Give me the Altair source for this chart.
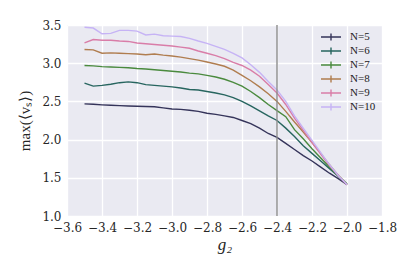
import altair as alt
import pandas as pd

# g2 values (x)
g2 = [-3.50, -3.45, -3.40, -3.35, -3.30, -3.25, -3.20, -3.15, -3.10, -3.05,
      -3.00, -2.95, -2.90, -2.85, -2.80, -2.75, -2.70, -2.65, -2.60, -2.55,
      -2.50, -2.45, -2.40, -2.35, -2.30, -2.25, -2.20, -2.15, -2.10, -2.05, -2.00]

n5 = [2.467, 2.462, 2.455, 2.45, 2.445, 2.44, 2.436, 2.433, 2.43, 2.415,
      2.40, 2.395, 2.385, 2.37, 2.345, 2.33, 2.31, 2.29, 2.25, 2.21,
      2.15, 2.08, 2.03, 1.95, 1.87, 1.79, 1.72, 1.64, 1.56, 1.49, 1.41]
n6 = [2.74, 2.70, 2.71, 2.725, 2.745, 2.755, 2.745, 2.72, 2.71, 2.70,
      2.69, 2.675, 2.655, 2.65, 2.63, 2.61, 2.585, 2.55, 2.50, 2.44,
      2.375, 2.31, 2.25, 2.15, 2.04, 1.92, 1.82, 1.72, 1.62, 1.52, 1.42]
n7 = [2.97, 2.965, 2.955, 2.95, 2.945, 2.94, 2.93, 2.925, 2.915, 2.905,
      2.895, 2.885, 2.87, 2.86, 2.84, 2.82, 2.79, 2.75, 2.70, 2.63,
      2.55, 2.46, 2.38, 2.30, 2.13, 2.01, 1.88, 1.76, 1.64, 1.53, 1.42]
n8 = [3.18, 3.175, 3.13, 3.135, 3.13, 3.125, 3.12, 3.11, 3.12, 3.105,
      3.095, 3.08, 3.06, 3.04, 3.015, 2.99, 2.96, 2.91, 2.84, 2.77,
      2.69, 2.60, 2.50, 2.37, 2.23, 2.10, 1.96, 1.82, 1.67, 1.53, 1.41]
n9 = [3.267, 3.31, 3.30, 3.30, 3.29, 3.285, 3.265, 3.255, 3.245, 3.235,
      3.225, 3.21, 3.195, 3.16, 3.13, 3.10, 3.06, 3.01, 2.97, 2.91,
      2.83, 2.72, 2.61, 2.46, 2.28, 2.12, 1.96, 1.81, 1.66, 1.53, 1.41]
n10 = [3.47, 3.46, 3.385, 3.39, 3.43, 3.43, 3.42, 3.37, 3.38, 3.36,
       3.355, 3.35, 3.325, 3.29, 3.26, 3.22, 3.18, 3.13, 3.07, 2.98,
       2.88, 2.76, 2.65, 2.50, 2.31, 2.15, 1.99, 1.83, 1.67, 1.53, 1.41]

series_names = ["N=5", "N=6", "N=7", "N=8", "N=9", "N=10"]
series_values = [n5, n6, n7, n8, n9, n10]
colors = ["#35345a", "#27655f", "#4a8a3e", "#b07d4f", "#d97da8", "#c6b3f5"]

x_ticks = [-3.6, -3.4, -3.2, -3.0, -2.8, -2.6, -2.4, -2.2, -2.0, -1.8]
y_ticks = [1.0, 1.5, 2.0, 2.5, 3.0, 3.5]
vline_x = [-2.4]

rows = []
for name, vals in zip(series_names, series_values):
    for x, v in zip(g2, vals):
        rows.append({"g2": x, "v": v, "N": name})
df = pd.DataFrame(rows)
df_v = pd.DataFrame({"g2": vline_x})

FONT = "Liberation Serif"
TICKFONT = "DejaVu Serif"

x_axis = alt.Axis(values=x_ticks, format=".1f", labelOverlap=False, labelFlush=False,
                  labelFont=TICKFONT, labelFontSize=12,
                  title="g₂", titleFontStyle="italic", titleFont=FONT,
                  titleFontSize=17, titlePadding=3)
x_scale = alt.Scale(domain=[-3.6, -1.8], nice=False, zero=False)

x_enc = alt.X("g2:Q", scale=x_scale, axis=x_axis)
y_enc = alt.Y("v:Q",
              scale=alt.Scale(domain=[1.0, 3.5], nice=False, zero=False),
              axis=alt.Axis(values=y_ticks, format=".1f", labelOverlap=False, labelFlush=False,
                            labelFont=TICKFONT, labelFontSize=12,
                            title="max(⟨vₛ⟩)", titleFont=FONT, titleFontSize=15,
                            titlePadding=9))

lines = alt.Chart(df).mark_line(strokeWidth=1.4).encode(
    x=x_enc,
    y=y_enc,
    color=alt.Color("N:N", sort=series_names,
                    scale=alt.Scale(domain=series_names, range=colors),
                    legend=alt.Legend(title=None, orient="none", legendX=258, legendY=6,
                                      symbolType="M-2,0H2M0,-0.7V0.7", symbolSize=100,
                                      symbolStrokeWidth=1.4, labelOffset=13,
                                      labelFont=FONT, labelFontSize=11, labelColor="#222222",
                                      rowPadding=0, padding=0)),
    order=alt.Order("g2:Q"),
)

rule = alt.Chart(df_v).mark_rule(color="#8c8c8c", strokeWidth=1.4).encode(
    x=alt.X("g2:Q", scale=x_scale, axis=x_axis)
)

chart = alt.layer(lines, rule).properties(
    width=315, height=191,
    background="white",
    autosize=alt.AutoSizeParams(type="none"),
    padding={"left": 59, "top": 17, "right": 25, "bottom": 45},
).configure_view(
    fill="#eaeaf2", stroke=None,
).configure_axis(
    grid=True, gridColor="white", gridWidth=1.3, domain=False, ticks=False,
    labelColor="#262626", labelPadding=6,
    titleColor="#262626", titleFontWeight="normal",
)

chart.save("out.html", embed_options={"renderer": "svg", "actions": False})
